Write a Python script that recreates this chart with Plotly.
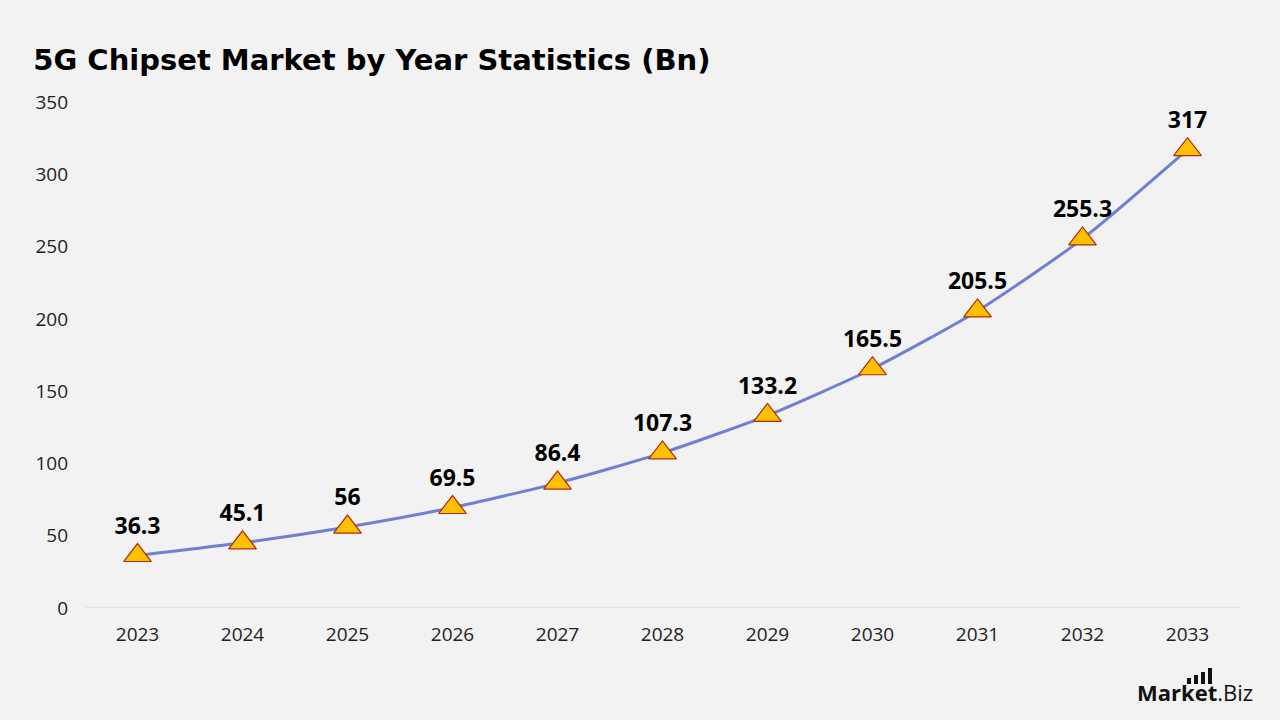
import plotly.graph_objects as go

years = ["2023", "2024", "2025", "2026", "2027", "2028", "2029", "2030", "2031", "2032", "2033"]
values = [36.3, 45.1, 56, 69.5, 86.4, 107.3, 133.2, 165.5, 205.5, 255.3, 317]
labels = ["36.3", "45.1", "56", "69.5", "86.4", "107.3", "133.2", "165.5", "205.5", "255.3", "317"]
y_ticks = [0, 50, 100, 150, 200, 250, 300, 350]

FONT = "Open Sans, Lato, sans-serif"

fig = go.Figure()
fig.add_trace(go.Scatter(
    x=years, y=values,
    mode="lines+markers+text",
    line=dict(color="#6f7fd1", width=3, shape="spline", smoothing=0.6),
    marker=dict(symbol="triangle-up", size=24, color="#ffc000",
                line=dict(color="#b02a10", width=1.2)),
    text=labels, textposition="top center",
    textfont=dict(family=FONT, size=23, color="#000000", weight="bold"),
    cliponaxis=False,
    hoverinfo="skip",
))

fig.update_layout(
    width=1280, height=720,
    paper_bgcolor="#f2f2f2", plot_bgcolor="#f2f2f2",
    margin=dict(l=85, r=40, t=102, b=112),
    showlegend=False,
    title=dict(text="<b>5G Chipset Market by Year Statistics (Bn)</b>",
               x=0.026, xanchor="left", y=0.917, yanchor="middle",
               font=dict(family="DejaVu Sans, sans-serif", size=29, color="#000000")),
    font=dict(family=FONT, color="#222222"),
)
fig.update_xaxes(type="category", range=[-0.5, 10.5], showgrid=False, showline=False,
                 zeroline=False, ticks="", ticklabelstandoff=13,
                 tickfont=dict(size=19, color="#222222"))
fig.update_yaxes(range=[0, 350], tickvals=y_ticks, showgrid=False, zeroline=False,
                 showline=False, ticks="", ticklabelstandoff=16,
                 tickfont=dict(size=19, color="#222222"))
fig.add_shape(type="line", xref="paper", yref="y", x0=0, x1=1, y0=0, y1=0,
              line=dict(color="#d9d9d9", width=1), layer="below")

# logo
fig.add_annotation(text="<b>Market</b>.Biz", xref="paper", yref="paper",
                   x=1.013, xanchor="right", y=-0.166, yanchor="middle", showarrow=False,
                   font=dict(family=FONT, size=22, color="#111111"))

def px_x(p):
    return (p - 85) / 1155

def px_y(p):
    return (608 - p) / 506

for left, top in [(1187, 678), (1194, 675), (1201, 672), (1208, 668)]:
    fig.add_shape(type="rect", xref="paper", yref="paper",
                  x0=px_x(left), x1=px_x(left + 4), y0=px_y(684), y1=px_y(top),
                  fillcolor="#111111", line=dict(width=0))

fig.write_html("out.html")
